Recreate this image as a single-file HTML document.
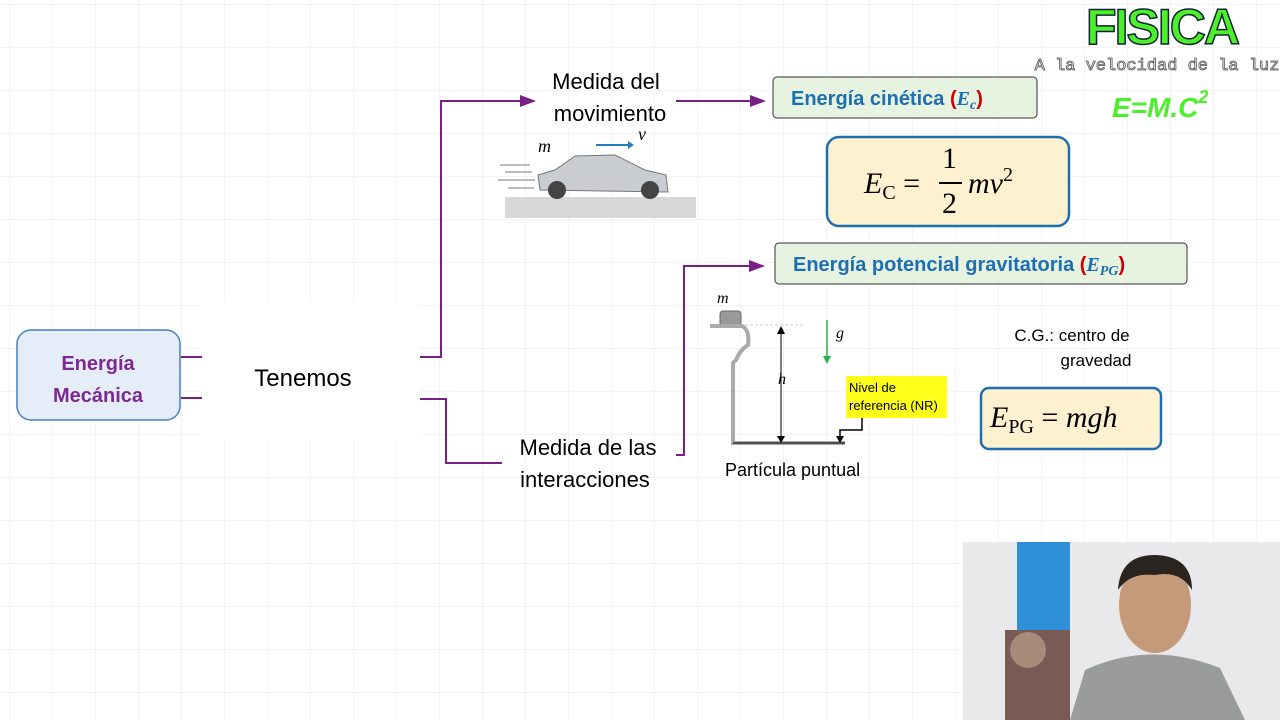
<!DOCTYPE html>
<html><head><meta charset="utf-8"><style>
body{margin:0;width:1280px;height:720px;overflow:hidden;background:#fff;font-family:"Liberation Sans",sans-serif}
svg{position:absolute;left:0;top:0}
</style></head><body>
<svg width="1280" height="720" viewBox="0 0 1280 720">
<defs>
<pattern id="g" width="43" height="43" patternUnits="userSpaceOnUse" x="10" y="5">
<path d="M43 0V43M0 43H43" stroke="#efefef" stroke-width="1.5" fill="none"/></pattern>
<marker id="a" markerWidth="8" markerHeight="8" refX="7" refY="4" orient="auto"><path d="M0,1 L8,4 L0,7z" fill="#7a1f86"/></marker>
</defs>
<rect width="1280" height="720" fill="url(#g)"/>
<rect x="17" y="330" width="163" height="90" rx="14" fill="#e5eef8" stroke="#4a7ec0" stroke-width="1.5"/>
<text x="98" y="370" text-anchor="middle" font-size="20" font-weight="bold" fill="#7a2a90">Energía</text>
<text x="98" y="402" text-anchor="middle" font-size="20" font-weight="bold" fill="#7a2a90">Mecánica</text>
<rect x="200" y="300" width="220" height="140" fill="#fff"/>
<text x="303" y="386" text-anchor="middle" font-size="24">Tenemos</text>
<g stroke="#7a1f86" stroke-width="2" fill="none">
<path d="M181 357H202M181 398H202"/>
<path d="M420 357H441V101H534" marker-end="url(#a)"/>
<path d="M420 399H446V463H502"/>
<path d="M676 101H764" marker-end="url(#a)"/>
<path d="M676 455H684V266H763" marker-end="url(#a)"/>
</g>
<text x="606" y="89" text-anchor="middle" font-size="22">Medida del</text>
<text x="610" y="121" text-anchor="middle" font-size="22">movimiento</text>
<text x="588" y="455" text-anchor="middle" font-size="22">Medida de las</text>
<text x="585" y="487" text-anchor="middle" font-size="22">interacciones</text>
<rect x="505" y="197" width="191" height="21" fill="#d8d8d8"/>
<path d="M540 190 L538 175 L555 170 L575 156 L615 155 L645 170 L666 175 L668 192 Z" fill="#c9ccd0" stroke="#777"/>
<circle cx="557" cy="190" r="9" fill="#444"/><circle cx="650" cy="190" r="9" fill="#444"/>
<path d="M500 165H530M505 172H532M498 180H535M508 188H534" stroke="#bbb" stroke-width="2"/>
<text x="538" y="152" font-size="18" font-style="italic" font-family="Liberation Serif">m</text>
<text x="638" y="140" font-size="18" font-style="italic" font-family="Liberation Serif">v</text>
<path d="M596 145H628" stroke="#1f7fc0" stroke-width="2"/><path d="M628 141L634 145L628 149z" fill="#1f7fc0"/>
<rect x="773" y="77" width="264" height="41" rx="4" fill="#e6f3e0" stroke="#333" stroke-width="1"/>
<text x="791" y="105" font-size="20" font-weight="bold" fill="#1f6fb0">Energía cinética <tspan fill="#c00">(</tspan><tspan fill="#1f6fb0" font-family="Liberation Serif" font-style="italic">E<tspan font-size="14" dy="4">c</tspan></tspan><tspan fill="#c00" dy="-4">)</tspan></text>
<rect x="827" y="137" width="242" height="89" rx="12" fill="#fdf1cf" stroke="#1f6fb0" stroke-width="2.5"/>
<g font-family="Liberation Serif" font-size="30" font-style="italic">
<text x="864" y="193">E<tspan font-size="20" dy="6" font-style="normal">C</tspan><tspan dy="-6" font-style="normal"> = </tspan></text>
<text x="942" y="168" font-style="normal">1</text><path d="M939 183H962" stroke="#000" stroke-width="2"/><text x="942" y="213" font-style="normal">2</text>
<text x="968" y="193">mv<tspan font-size="20" dy="-12" font-style="normal">2</tspan></text>
</g>
<rect x="775" y="243" width="412" height="41" rx="4" fill="#e6f3e0" stroke="#333" stroke-width="1"/>
<text x="793" y="271" font-size="20" font-weight="bold" fill="#1f6fb0">Energía potencial gravitatoria <tspan fill="#c00">(</tspan><tspan font-family="Liberation Serif" font-style="italic">E<tspan font-size="14" dy="4">PG</tspan></tspan><tspan fill="#c00" dy="-4">)</tspan></text>
<text x="717" y="303" font-size="16" font-style="italic" font-family="Liberation Serif">m</text>
<rect x="720" y="311" width="21" height="15" rx="3" fill="#999" stroke="#666"/>
<path d="M710 326H742Q750 330 748 345Q740 350 736 360L733 363V443H845" fill="none" stroke="#aaa" stroke-width="4"/>
<path d="M733 443H845" stroke="#333" stroke-width="1.5"/>
<path d="M745 325H805" stroke="#ccc" stroke-dasharray="3 2"/>
<path d="M781 334V436" stroke="#000" stroke-width="1"/>
<path d="M777 334L781 326L785 334z"/><path d="M777 436L781 443L785 436z"/>
<text x="778" y="384" font-size="16" font-style="italic" font-family="Liberation Serif">h</text>
<path d="M827 320V358" stroke="#2bb24a" stroke-width="1.5"/><path d="M823 356L827 364L831 356z" fill="#2bb24a"/>
<text x="836" y="338" font-size="16" font-style="italic" font-family="Liberation Serif">g</text>
<rect x="846" y="376" width="101" height="42" fill="#ffff1a"/>
<text x="849" y="392" font-size="13">Nivel de</text><text x="849" y="410" font-size="13">referencia (NR)</text>
<path d="M862 418V430H840V437" fill="none" stroke="#000" stroke-width="1.5"/><path d="M836 436L840 443L844 436z"/>
<text x="725" y="476" font-size="18">Partícula puntual</text>
<text x="1072" y="341" text-anchor="middle" font-size="17">C.G.: centro de</text>
<text x="1096" y="366" text-anchor="middle" font-size="17">gravedad</text>
<rect x="981" y="388" width="180" height="61" rx="8" fill="#fdf1cf" stroke="#1f6fb0" stroke-width="2.5"/>
<text x="990" y="427" font-size="30" font-style="italic" font-family="Liberation Serif">E<tspan font-size="20" dy="6" font-style="normal">PG</tspan><tspan dy="-6" font-style="normal"> = </tspan>mgh</text>
<text x="1162" y="44" text-anchor="middle" font-size="50" font-weight="bold" fill="#4cf02a" stroke="#123" stroke-width="1.5" letter-spacing="-2">FISICA</text>
<text x="1157" y="70" text-anchor="middle" font-size="17" font-family="Liberation Mono" fill="#eee" stroke="#555" stroke-width="0.8">A la velocidad de la luz</text>
<text x="1112" y="117" font-size="28" font-weight="bold" fill="#4cf02a" font-style="italic">E=M.C<tspan font-size="18" dy="-14">2</tspan></text>
<rect x="963" y="542" width="317" height="178" fill="#e9e9ec"/>
<rect x="1017" y="542" width="53" height="120" fill="#2f8fd8"/>
<rect x="1005" y="630" width="65" height="90" fill="#7a5a55"/>
<circle cx="1028" cy="650" r="18" fill="#a88a78"/>
<ellipse cx="1155" cy="605" rx="36" ry="48" fill="#c49a7a"/>
<path d="M1118 590Q1120 555 1155 555Q1192 556 1192 590Q1180 570 1155 575Q1130 572 1118 590z" fill="#2a2420"/>
<path d="M1070 720L1085 670Q1150 640 1220 668L1245 720z" fill="#9a9b9c"/>
</svg>
</body></html>
